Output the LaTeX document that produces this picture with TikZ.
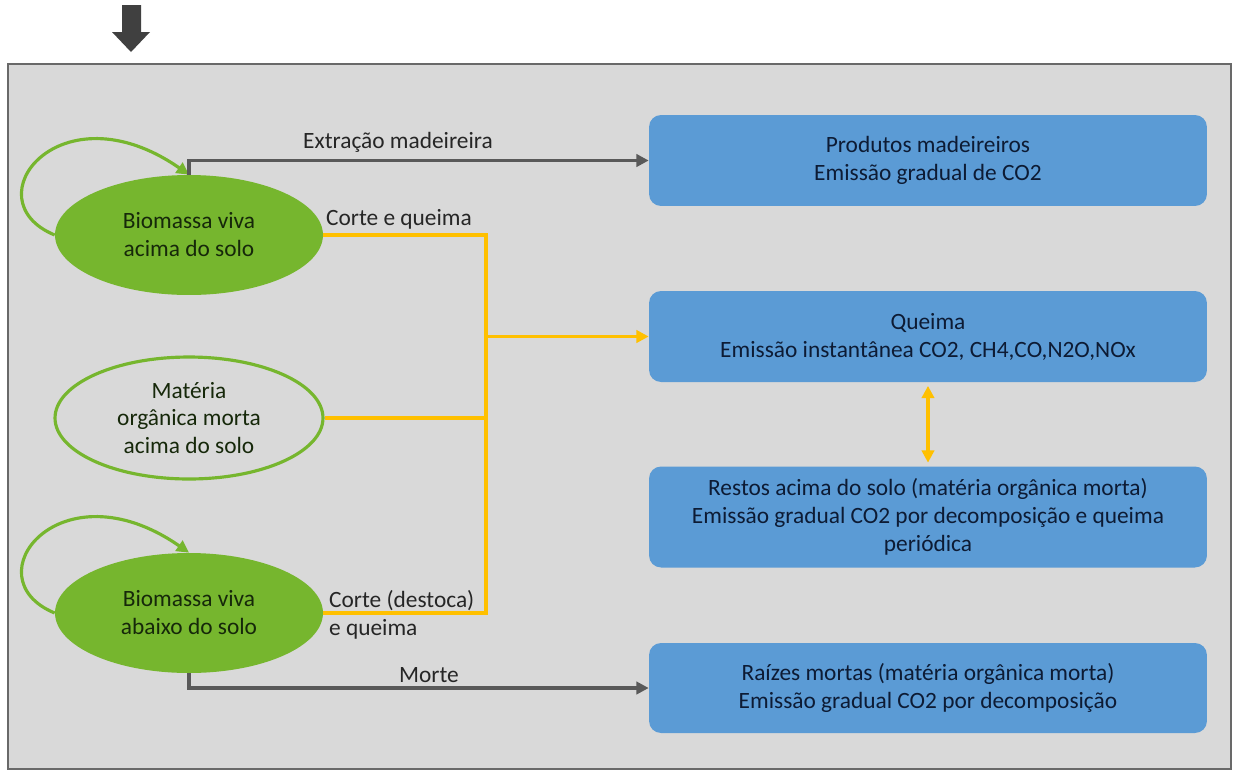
\documentclass[tikz,border=0pt]{standalone}
\usepackage{fontspec}
\setmainfont{Carlito}
\usepackage{tikz}
\usetikzlibrary{arrows.meta, shapes.geometric}
\definecolor{framebg}{RGB}{217,217,217}
\definecolor{frameline}{RGB}{105,105,105}
\definecolor{leafgreen}{RGB}{118,182,46}
\definecolor{boxblue}{RGB}{91,155,213}
\definecolor{burnorange}{RGB}{255,192,0}
\definecolor{flowgray}{RGB}{89,89,89}
\definecolor{navytext}{RGB}{13,27,52}
\definecolor{greentext}{RGB}{22,40,10}

\begin{document}
\begin{tikzpicture}[x=0.02cm, y=-0.02cm, font=\fontsize{13.3}{15.9}\selectfont,
  poolfill/.style={ellipse, fill=leafgreen, text=greentext, align=center,
    minimum width=5.36cm, minimum height=2.4cm, inner sep=0pt},
  pooldraw/.style={ellipse, draw=leafgreen, line width=1.8pt, fill=framebg,
    text=greentext, align=center, minimum width=5.36cm, minimum height=2.44cm,
    inner sep=0pt},
  emitbox/.style={rounded corners=0.24cm, fill=boxblue, text=navytext,
    align=center, minimum width=11.16cm, inner sep=0pt},
  grayflow/.style={draw=flowgray, line width=2pt,
    -{Triangle[length=7pt,width=7pt]}},
  burnflow/.style={draw=burnorange, line width=2.2pt},
  loopflow/.style={draw=leafgreen, line width=1.8pt,
    -{Triangle[length=7pt,width=7pt]}},
  flowlabel/.style={text=black!85, inner sep=1pt}]

  \useasboundingbox (0,0) rectangle (1235,772);

  % Entry arrow and frame
  \fill[black!75] (122,5) -- (141,5) -- (141,32) -- (150,32) -- (131,52)
    -- (112,32) -- (122,32) -- cycle;
  \draw[frameline, line width=1.4pt, fill=framebg] (8,64) rectangle (1231,769);

  % Carbon pools
  \node[poolfill] (e1) at (189,235) {Biomassa viva\\ acima do solo};
  \node[pooldraw] (e2) at (189,418) {Matéria\\ orgânica morta\\ acima do solo};
  \node[poolfill] (e3) at (189,613) {Biomassa viva\\ abaixo do solo};

  % Emission boxes
  \node[emitbox, minimum height=1.82cm] (b1) at (928,160.5)
    {Produtos madeireiros\\ Emissão gradual de CO2};
  \node[emitbox, minimum height=1.82cm] (b2) at (928,336.5)
    {Queima\\ Emissão instantânea CO2, CH4,CO,N2O,NOx};
  \node[emitbox, minimum height=2.02cm] (b3) at (928,517)
    {Restos acima do solo (matéria orgânica morta)\\
     Emissão gradual CO2 por decomposição e queima\\ periódica};
  \node[emitbox, minimum height=1.8cm] (b4) at (928,688)
    {Raízes mortas (matéria orgânica morta)\\
     Emissão gradual CO2 por decomposição};

  % Self loops
  \draw[loopflow] (e1.180) .. controls (-30,200) and (60,85) .. (e1.north);
  \draw[loopflow] (e3.180) .. controls (-30,578) and (60,463) .. (e3.north);

  % Burning bus
  \coordinate (bus) at (486,336.5);
  \draw[burnflow] (e1.east) -| (bus);
  \draw[burnflow] (e3.east) -| (bus);
  \draw[burnflow] (e2.east) -- (e2.east -| bus);
  \draw[burnflow, -{Triangle[length=7pt,width=7pt]}] (bus) -- (b2.west);
  \draw[burnflow, {Triangle[length=7pt,width=7pt]}-{Triangle[length=7pt,width=7pt]},
    shorten <=2pt, shorten >=2pt] (b2.south) -- (b3.north);

  % Gray flows
  \draw[grayflow] (e1.north) |- (b1.west);
  \draw[grayflow] (e3.south) |- (b4.west);

  % Flow labels
  \node[flowlabel] (l1) at (398,142) {Extração madeireira};
  \node[flowlabel, anchor=west] (l2) at (324,219) {Corte e queima};
  \node[flowlabel, anchor=west, align=left] (l3) at (327,615)
    {Corte (destoca)\\ e queima};
  \node[flowlabel] (l4) at (429,675) {Morte};

\end{tikzpicture}
\end{document}
